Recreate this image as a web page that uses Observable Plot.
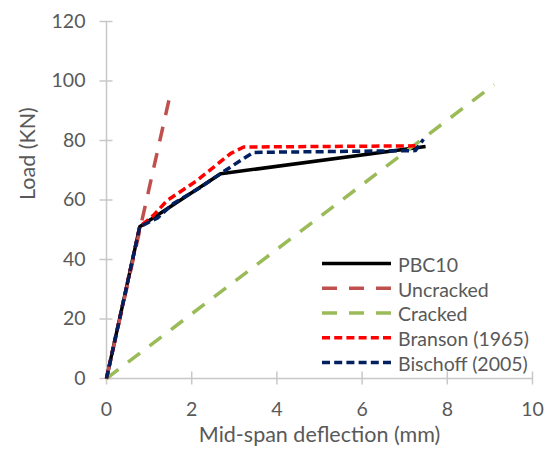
<!DOCTYPE html>
<html>
<head>
<meta charset="utf-8">
<script src="https://cdn.jsdelivr.net/npm/d3@7"></script>
<script src="https://cdn.jsdelivr.net/npm/@observablehq/plot@0.6"></script>
<style>
  html, body { margin: 0; padding: 0; background: #fff; }
  #wrap { position: relative; width: 552px; height: 449px; }
  #legend { position: absolute; left: 0; top: 0; pointer-events: none; }
</style>
</head>
<body>
<div id="wrap"></div>
<script>
// ---- data ----
const seriesNames = ["PBC10", "Uncracked", "Cracked", "Branson (1965)", "Bischoff (2005)"];
const seriesColors = ["#000000", "#c0504d", "#9bbb59", "#ff0000", "#002060"];
const seriesDash = [null, "15,12", "15,12", "8,4.2", "8,4.2"];

const pbc10X = [0, 0.78, 2.68, 7.49];
const pbc10Y = [0, 51, 68.8, 78];
const uncrackedX = [0, 1.5];
const uncrackedY = [0, 95.8];
const crackedX = [0, 9.1];
const crackedY = [0, 98.8];
const bransonX = [0, 0.78, 1.1, 1.42, 2.13, 2.91, 3.22, 7.25];
const bransonY = [0, 51, 54.8, 59.8, 66.6, 75.6, 77.8, 78.2];
const bischoffX = [0, 0.78, 1.2, 1.57, 2.2, 2.68, 3.15, 3.45, 7.25, 7.44];
const bischoffY = [0, 51, 54, 58.8, 64.2, 68.9, 73.3, 76, 76.6, 80.4];

const xTicks = [0, 2, 4, 6, 8, 10];
const yTicks = [0, 20, 40, 60, 80, 100, 120];
const xTitle = "Mid-span deflection (mm)";
const yTitle = "Load (KN)";

// ---- build ----
const allX = [pbc10X, uncrackedX, crackedX, bransonX, bischoffX];
const allY = [pbc10Y, uncrackedY, crackedY, bransonY, bischoffY];
const rows = [];
allX.forEach((xs, s) => xs.forEach((x, i) => rows.push({series: seriesNames[s], x, y: allY[s][i]})));

const font = "Lato, 'Open Sans', sans-serif";
const textColor = "#595959";
const axisColor = "#c8c8c8";

const lineMarks = seriesNames.map((name, s) =>
  Plot.line(rows.filter(d => d.series === name), {
    x: "x", y: "y",
    stroke: seriesColors[s],
    strokeWidth: 3.5,
    strokeDasharray: seriesDash[s] || undefined,
    strokeLinejoin: "round",
    strokeLinecap: "butt"
  })
);

const chart = Plot.plot({
  width: 552,
  height: 449,
  marginLeft: 106,
  marginRight: 20,
  marginTop: 21,
  marginBottom: 71,
  style: {fontFamily: font, fontSize: "19.5px", color: textColor, background: "#fff"},
  x: {domain: [0, 10], ticks: xTicks},
  y: {domain: [0, 120], ticks: yTicks},
  marks: [
    Plot.ruleY([0], {stroke: axisColor, strokeWidth: 1.5}),
    Plot.ruleX([0], {stroke: axisColor, strokeWidth: 1.5}),
    Plot.ruleX(xTicks, {x: d => d, y1: 0, y2: 0, insetTop: -6.5, insetBottom: -6.5, stroke: axisColor, strokeWidth: 1.5}),
    Plot.ruleY(yTicks, {y: d => d, x1: 0, x2: 0, insetLeft: -6.5, insetRight: -6.5, stroke: axisColor, strokeWidth: 1.5}),
    Plot.axisX(xTicks, {tickSize: 0, tickPadding: 24, label: null, fill: textColor, fontSize: 19.5}),
    Plot.axisY(yTicks, {tickSize: 0, tickPadding: 21, label: null, fill: textColor, fontSize: 19.5}),
    Plot.text([xTitle], {frameAnchor: "bottom", dy: 57, dx: 0, text: d => d, fill: textColor, fontSize: 21.5, lineAnchor: "middle"}),
    Plot.text([yTitle], {frameAnchor: "left", dx: -78, dy: 0, rotate: -90, text: d => d, fill: textColor, fontSize: 21.5, lineAnchor: "middle"}),
    ...lineMarks
  ]
});

const wrap = document.getElementById("wrap");
wrap.appendChild(chart);

// ---- legend overlay ----
const leg = d3.select(wrap).append("svg")
  .attr("id", "legend")
  .attr("width", 552).attr("height", 449);
seriesNames.forEach((name, i) => {
  const y = 263.5 + i * 24.75;
  leg.append("line")
    .attr("x1", 322).attr("x2", 391).attr("y1", y).attr("y2", y)
    .attr("stroke", seriesColors[i]).attr("stroke-width", 3.5)
    .attr("stroke-dasharray", seriesDash[i] || null);
  leg.append("text")
    .attr("x", 398).attr("y", y + 1.5).attr("dy", "0.35em")
    .attr("fill", textColor)
    .style("font-family", font).style("font-size", "19.5px")
    .text(name);
});
</script>
</body>
</html>
